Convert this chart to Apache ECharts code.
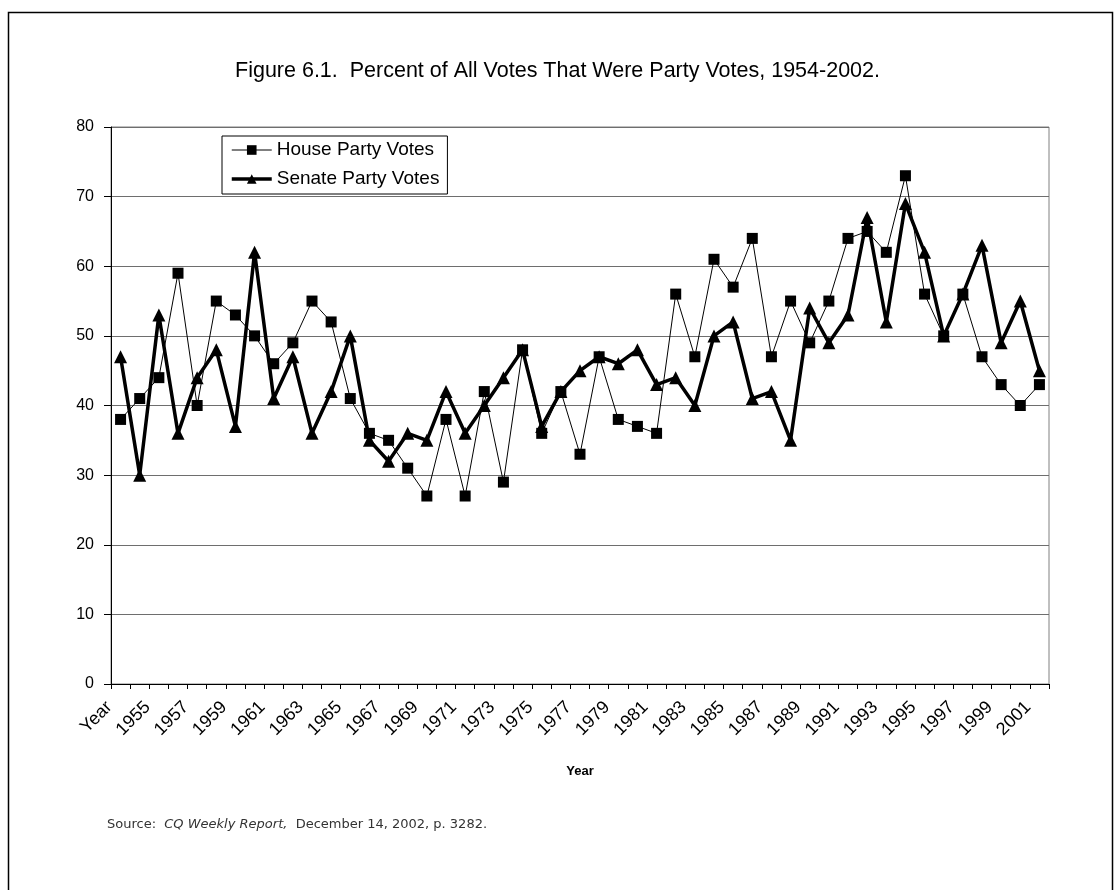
<!DOCTYPE html>
<html>
<head>
<meta charset="utf-8">
<title>Party Votes 1954-2002</title>
<script src="https://cdn.jsdelivr.net/npm/echarts@6/dist/echarts.min.js"></script>
<style>
  html, body { margin: 0; padding: 0; background: #fff; }
  #chart { width: 1115px; height: 890px; }
</style>
</head>
<body>
<div id="chart"></div>
<script>
// Category axis as laid out in the workbook: the header cell "Year" sits in the first slot.
const years = ["Year", "1954", "1955", "1956", "1957", "1958", "1959", "1960", "1961", "1962",
  "1963", "1964", "1965", "1966", "1967", "1968", "1969", "1970", "1971", "1972",
  "1973", "1974", "1975", "1976", "1977", "1978", "1979", "1980", "1981", "1982",
  "1983", "1984", "1985", "1986", "1987", "1988", "1989", "1990", "1991", "1992",
  "1993", "1994", "1995", "1996", "1997", "1998", "1999", "2000", "2001"];

// Percent of roll-call votes that were party votes
const houseVotes = [38, 41, 44, 59, 40, 55, 53, 50, 46, 49,
  55, 52, 41, 36, 35, 31, 27, 38, 27, 42,
  29, 48, 36, 42, 33, 47, 38, 37, 36, 56,
  47, 61, 57, 64, 47, 55, 49, 55, 64, 65,
  62, 73, 56, 50, 56, 47, 43, 40, 43];

const senateVotes = [47, 30, 53, 36, 44, 48, 37, 62, 41, 47,
  36, 42, 50, 35, 32, 36, 35, 42, 36, 40,
  44, 48, 37, 42, 45, 47, 46, 48, 43, 44,
  40, 50, 52, 41, 42, 35, 54, 49, 53, 67,
  52, 69, 62, 50, 56, 63, 49, 55, 45];

const yTicks = { min: 0, max: 80, interval: 10 };

const chart = echarts.init(document.getElementById('chart'), null, { renderer: 'canvas' });

const option = {
  backgroundColor: '#ffffff',
  animation: false,
  title: {
    text: 'Figure 6.1.  Percent of All Votes That Were Party Votes, 1954-2002.',
    left: 'center',
    top: 55,
    textStyle: { fontFamily: 'Liberation Sans', fontSize: 21.5, fontWeight: 'normal', color: '#000' }
  },
  legend: {
    orient: 'vertical',
    left: 222,
    top: 136,
    padding: [4, 8, 5, 8],
    itemGap: 9,
    itemWidth: 40,
    itemHeight: 12,
    backgroundColor: '#fff',
    borderColor: '#000',
    borderWidth: 1,
    borderRadius: 0,
    textStyle: { fontFamily: 'Liberation Sans', fontSize: 19, lineHeight: 20, color: '#000' },
    data: [
      { name: 'House Party Votes', lineStyle: { width: 1 } },
      { name: 'Senate Party Votes', lineStyle: { width: 3.5 } }
    ]
  },
  grid: {
    left: 111,
    right: 66,
    top: 127,
    bottom: 206,
    show: true,
    borderColor: '#808080',
    borderWidth: 1
  },
  xAxis: {
    type: 'category',
    data: years,
    boundaryGap: true,
    name: 'Year',
    nameLocation: 'middle',
    nameGap: 81,
    nameTextStyle: { fontFamily: 'Liberation Sans', fontSize: 13, fontWeight: 'bold', color: '#000' },
    axisLine: { lineStyle: { color: '#000', width: 1 } },
    axisTick: { show: true, interval: 0, length: 5, lineStyle: { color: '#000' } },
    axisLabel: {
      interval: 1,
      rotate: 45,
      margin: 9,
      padding: [0, 16, 0, 0],
      fontFamily: 'Liberation Sans',
      fontSize: 18,
      color: '#000'
    },
    splitLine: { show: false }
  },
  yAxis: {
    type: 'value',
    min: yTicks.min,
    max: yTicks.max,
    interval: yTicks.interval,
    axisLine: { show: true, lineStyle: { color: '#000', width: 1 } },
    axisTick: { show: true, length: 7, lineStyle: { color: '#000' } },
    axisLabel: { margin: 17, fontFamily: 'Liberation Sans', fontSize: 16, color: '#000' },
    splitLine: { show: true, lineStyle: { color: '#6e6e6e', width: 1 } }
  },
  series: [
    {
      name: 'House Party Votes',
      type: 'line',
      data: houseVotes,
      symbol: 'rect',
      symbolSize: 11,
      showAllSymbol: true,
      lineStyle: { color: '#000', width: 1 },
      itemStyle: { color: '#000' },
      z: 3
    },
    {
      name: 'Senate Party Votes',
      type: 'line',
      data: senateVotes,
      symbol: 'triangle',
      symbolSize: 13,
      showAllSymbol: true,
      lineStyle: { color: '#000', width: 3.5 },
      itemStyle: { color: '#000' },
      z: 4
    }
  ],
  graphic: [
    {
      type: 'rect',
      shape: { x: 8.5, y: 12.5, width: 1104, height: 900 },
      style: { fill: null, stroke: '#000', lineWidth: 1.5 },
      silent: true
    },
    {
      type: 'text',
      left: 107,
      top: 818,
      style: {
        text: '{n|Source:  }{i|CQ Weekly Report,}{n|  December 14, 2002, p. 3282.}',
        rich: {
          n: { fontFamily: 'DejaVu Sans', fontSize: 13, fill: '#333' },
          i: { fontFamily: 'DejaVu Sans', fontSize: 13, fontStyle: 'italic', fill: '#333' }
        }
      }
    }
  ]
};

chart.setOption(option);
</script>
</body>
</html>
